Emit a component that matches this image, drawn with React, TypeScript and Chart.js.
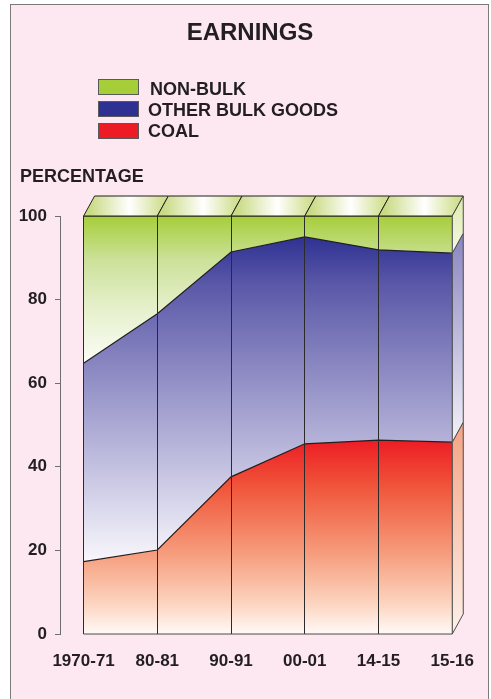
import { useEffect, useRef } from "react";
import { Chart, registerables } from "chart.js";

Chart.register(...registerables);

// ---- data ----
const categories = ["1970-71", "80-81", "90-91", "00-01", "14-15", "15-16"];
const coal = [17.3, 20.1, 37.6, 45.5, 46.4, 45.9];
const otherBulk = [47.5, 56.5, 53.8, 49.5, 45.5, 45.2];
const nonBulk = [35.2, 23.4, 8.6, 5.0, 8.1, 8.9];
const yTickValues = [0, 20, 40, 60, 80, 100];
const legendLabels = ["NON-BULK", "OTHER BULK GOODS", "COAL"];
const legendColors = ["#a6ce39", "#2e3192", "#ed1c24"];
const titleText = "EARNINGS";
const yTitleText = "PERCENTAGE";

const FONT = "'Liberation Sans', Arial, Helvetica, sans-serif";
const INK = "#231f20";
const DX = 11;
const DY = 20;

const coalStops: [number, string][] = [
  [0, "#ed1c24"],
  [0.25, "#f0573b"],
  [0.6, "#f6a080"],
  [0.85, "#fcd6c2"],
  [1, "#fffaf6"],
];
const bulkStops: [number, string][] = [
  [0, "#2e3192"],
  [0.15, "#5b59a8"],
  [0.5, "#9d9acc"],
  [1, "#f8f7fc"],
];
const nonBulkStops: [number, string][] = [
  [0, "#a6ce39"],
  [0.3, "#cce19a"],
  [0.6, "#e4efc8"],
  [1, "#fbfdf6"],
];

function vGrad(chart: any, fromVal: number, toVal: number, stops: [number, string][]) {
  const { ctx, chartArea, scales } = chart;
  if (!chartArea || !scales.y) return stops[0][1];
  const y0 = scales.y.getPixelForValue(fromVal);
  const y1 = scales.y.getPixelForValue(toVal);
  const g = ctx.createLinearGradient(0, y0, 0, y1);
  stops.forEach(([o, c]) => g.addColorStop(o, c));
  return g;
}

const bulkTop = coal.map((c, i) => c + otherBulk[i]);
const totals = bulkTop.map((b, i) => b + nonBulk[i]);

const depthPlugin = {
  id: "depth3d",
  afterDraw(chart: any) {
    const { ctx, scales } = chart;
    const x = scales.x;
    const y = scales.y;
    const n = categories.length;
    const xs = categories.map((_, i) => x.getPixelForValue(i));
    ctx.save();
    ctx.lineWidth = 1;
    ctx.lineJoin = "round";
    // top face
    for (let i = 0; i < n - 1; i++) {
      const ya = y.getPixelForValue(totals[i]);
      const yb = y.getPixelForValue(totals[i + 1]);
      ctx.beginPath();
      ctx.moveTo(xs[i], ya);
      ctx.lineTo(xs[i + 1], yb);
      ctx.lineTo(xs[i + 1] + DX, yb - DY);
      ctx.lineTo(xs[i] + DX, ya - DY);
      ctx.closePath();
      const g = ctx.createLinearGradient(xs[i] + DX / 2, 0, xs[i + 1] + DX / 2, 0);
      g.addColorStop(0, "#c8da82");
      g.addColorStop(0.55, "#ffffff");
      g.addColorStop(1, "#d0df90");
      ctx.fillStyle = g;
      ctx.fill();
      ctx.strokeStyle = INK;
      ctx.stroke();
    }
    // side face
    const last = n - 1;
    const xr = xs[last];
    const bounds = [0, coal[last], bulkTop[last], totals[last]];
    const sideColors = [
      ["#f4a283", "#fdf1ea"],
      ["#8985c0", "#f3f2f9"],
      ["#dde9ad", "#f4f8e4"],
    ];
    for (let k = 0; k < 3; k++) {
      const yb = y.getPixelForValue(bounds[k]);
      const yt = y.getPixelForValue(bounds[k + 1]);
      ctx.beginPath();
      ctx.moveTo(xr, yb);
      ctx.lineTo(xr + DX, yb - DY);
      ctx.lineTo(xr + DX, yt - DY);
      ctx.lineTo(xr, yt);
      ctx.closePath();
      const g = ctx.createLinearGradient(0, yt - DY, 0, yb);
      g.addColorStop(0, sideColors[k][0]);
      g.addColorStop(1, sideColors[k][1]);
      ctx.fillStyle = g;
      ctx.fill();
      ctx.strokeStyle = "#4a4a4a";
      ctx.stroke();
    }
    // bottom edge of the front face
    const y0 = y.getPixelForValue(0);
    ctx.beginPath();
    ctx.moveTo(xs[0], y0);
    ctx.lineTo(xs[last], y0);
    ctx.strokeStyle = "#4a4a4a";
    ctx.stroke();
    ctx.restore();
  },
};

export default function App() {
  const canvasRef = useRef<HTMLCanvasElement | null>(null);

  useEffect(() => {
    if (!canvasRef.current) return;
    const pts = (arr: number[]) => arr.map((v, i) => ({ x: i, y: v }));
    const tickFont = { family: FONT, size: 17, weight: "bold" as const };
    const chart = new Chart(canvasRef.current, {
      type: "line",
      data: {
        datasets: [
          {
            label: "COAL",
            data: pts(coal),
            fill: "origin",
            backgroundColor: (c: any) => vGrad(c.chart, Math.max(...coal), 0, coalStops),
            borderColor: INK,
            borderWidth: 1.2,
            pointRadius: 0,
            tension: 0,
          },
          {
            label: "OTHER BULK GOODS",
            data: pts(otherBulk),
            fill: "-1",
            backgroundColor: (c: any) =>
              vGrad(c.chart, Math.max(...bulkTop), Math.min(...coal), bulkStops),
            borderColor: INK,
            borderWidth: 1.2,
            pointRadius: 0,
            tension: 0,
          },
          {
            label: "NON-BULK",
            data: pts(nonBulk),
            fill: "-1",
            backgroundColor: (c: any) =>
              vGrad(c.chart, Math.max(...totals), Math.min(...bulkTop), nonBulkStops),
            borderColor: INK,
            borderWidth: 1.2,
            pointRadius: 0,
            tension: 0,
          },
        ],
      },
      options: {
        responsive: false,
        animation: false,
        events: [],
        layout: { padding: { top: 216, right: 37, bottom: 0, left: 10 } },
        plugins: {
          legend: { display: false },
          tooltip: { enabled: false },
          title: { display: false },
        },
        scales: {
          x: {
            type: "linear",
            min: -0.32,
            max: categories.length - 1,
            afterBuildTicks: (s: any) => {
              s.ticks = categories.map((_, i) => ({ value: i }));
            },
            afterFit: (s: any) => {
              s.height = 65;
            },
            ticks: {
              callback: (v: any) => categories[Math.round(Number(v))] ?? "",
              font: tickFont,
              color: INK,
              padding: 17,
              maxRotation: 0,
              autoSkip: false,
            },
            grid: {
              color: "#2b2b2b",
              lineWidth: 1,
              drawTicks: false,
              drawOnChartArea: true,
              z: 1,
            },
            border: { display: false },
          },
          y: {
            stacked: true,
            min: 0,
            max: 100,
            afterBuildTicks: (s: any) => {
              s.ticks = yTickValues.map((v) => ({ value: v }));
            },
            afterFit: (s: any) => {
              s.width = 50;
            },
            ticks: {
              font: tickFont,
              color: INK,
              padding: 8,
            },
            grid: {
              drawOnChartArea: false,
              drawTicks: true,
              tickLength: 5,
              color: "#6d6e71",
              lineWidth: 1,
            },
            border: { display: true, color: "#6d6e71", width: 1 },
          },
        },
      },
      plugins: [depthPlugin],
    } as any);
    return () => chart.destroy();
  }, []);

  const text = (fs: number) => ({
    position: "absolute" as const,
    fontFamily: FONT,
    fontWeight: "bold" as const,
    fontSize: fs,
    lineHeight: `${fs}px`,
    color: INK,
    whiteSpace: "nowrap" as const,
    margin: 0,
  });
  const legendTops = [79.8, 101.4, 122.3];
  const boxTops = [79, 100.5, 122.5];
  const textLefts = [150, 148, 148];

  return (
    <div
      style={{
        position: "absolute",
        left: 0,
        top: 0,
        width: 491,
        height: 699,
        overflow: "hidden",
        background: "#ffffff",
      }}
    >
      <div
        style={{
          position: "absolute",
          left: 10,
          top: 4,
          width: 479,
          height: 720,
          boxSizing: "border-box",
          background: "#fde8f1",
          border: "1px solid #7a7a7a",
        }}
      />
      <canvas
        ref={canvasRef}
        width={491}
        height={699}
        style={{ position: "absolute", left: 0, top: 0, width: 491, height: 699 }}
      />
      <div style={{ ...text(24), left: 0, width: 500, textAlign: "center", top: 19.7 }}>
        {titleText}
      </div>
      {legendLabels.map((lab, i) => (
        <div key={lab}>
          <div
            style={{
              position: "absolute",
              left: 98,
              top: boxTops[i],
              width: 41,
              height: 16,
              boxSizing: "border-box",
              background: legendColors[i],
              border: "1px solid #58595b",
            }}
          />
          <div style={{ ...text(18), left: textLefts[i], top: legendTops[i] }}>{lab}</div>
        </div>
      ))}
      <div style={{ ...text(18), left: 20, top: 166.5 }}>{yTitleText}</div>
    </div>
  );
}
